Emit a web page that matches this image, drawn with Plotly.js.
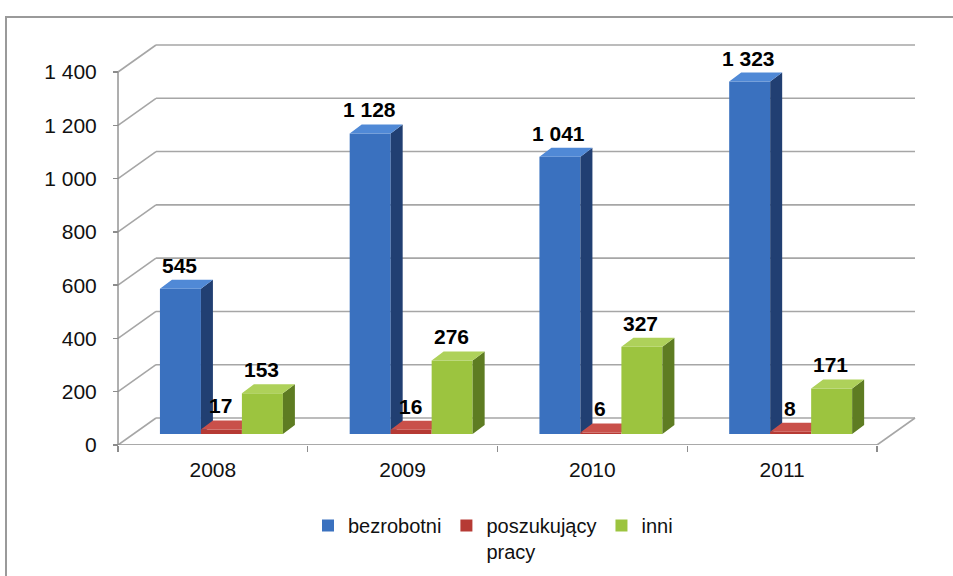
<!DOCTYPE html>
<html>
<head>
<meta charset="utf-8">
<script src="https://cdn.plot.ly/plotly-3.0.1.min.js"></script>
<style>
html,body{margin:0;padding:0;background:#fff;}
#chart{width:953px;height:576px;}
</style>
</head>
<body>
<div id="chart"></div>
<script>
// ---- data ----
const years = ['2008', '2009', '2010', '2011'];
const bezrobotni = [545, 1128, 1041, 1323];
const poszukujacy = [17, 16, 6, 8];
const inni = [153, 276, 327, 171];
const seriesNames = ['bezrobotni', 'poszukujący<br>pracy', 'inni'];
const yTickVals = [0, 200, 400, 600, 800, 1000, 1200, 1400];
const yTickText = ['0', '200', '400', '600', '800', '1 000', '1 200', '1 400'];

// ---- styling / geometry constants ----
const W = 953, H = 576;
const FONT = 'Arial, "Liberation Sans", sans-serif';
const xMin = -0.52, xMax = 3.72, yMax = 1510;
const pxPerX = 189.75;              // px per category
const pxPerY = 373 / 1400;          // px per value unit
const frontLeftPx = 118, floorPx = 445;
const domLeftPx = frontLeftPx + (xMin + 0.5) * pxPerX;
const domRightPx = frontLeftPx + (xMax + 0.5) * pxPerX;
const domTopPx = floorPx - yMax * pxPerY;
const DXF = 38 / pxPerX, DYF = 27 / pxPerY;      // back wall offset
const DXB = 12 / pxPerX, DYB = 9 / pxPerY;       // bar depth offset
const BASE = 11 / pxPerY;                        // bar plane above floor
const barW = 0.216;
const offsets = [-0.279, -0.063, 0.153];
const colors = {
  front: ['#3a71bf', '#b63a34', '#9cc43f'],
  side:  ['#213f72', '#7a2422', '#5e7c22'],
  top:   ['#5089d6', '#c9504a', '#aed15a']
};
const gridColor = '#a6a6a6';

const seriesVals = [bezrobotni, poszukujacy, inni];
const fmt = n => String(n).replace(/\B(?=(\d{3})+(?!\d))/g, ' ');
const xs = years.map((_, i) => i);

const traces = [];
const annotations = [];
seriesVals.forEach((vals, s) => {
  const ax = s === 0 ? 'x' : 'x' + (s + 1);
  const ay = s === 0 ? 'y' : 'y' + (s + 1);
  traces.push({
    type: 'bar', x: xs, y: vals, base: BASE, width: barW, offset: offsets[s],
    name: seriesNames[s], xaxis: ax, yaxis: ay,
    marker: {color: colors.front[s], line: {width: 0}},
    hoverinfo: 'skip'
  });
  const sx = [], sy = [], tx = [], ty = [];
  vals.forEach((v, i) => {
    const xl = i + offsets[s], xr = xl + barW, top = BASE + v;
    if (s !== 1) {
      sx.push(xr, xr + DXB, xr + DXB, xr, xr, null);
      sy.push(BASE, BASE + DYB, top + DYB, top, BASE, null);
    }
    tx.push(xl, xr, xr + DXB, xl + DXB, xl, null);
    ty.push(top, top, top + DYB, top + DYB, top, null);
    annotations.push({
      x: xl + barW / 2, y: top, xref: ax, yref: ay,
      text: '<b>' + fmt(v) + '</b>', showarrow: false,
      yanchor: 'bottom', yshift: 10, xshift: -1,
      font: {family: FONT, size: 21, color: '#000'}
    });
  });
  if (sx.length) traces.push({type: 'scatter', x: sx, y: sy, xaxis: ax, yaxis: ay, mode: 'none',
    fill: 'toself', fillcolor: colors.side[s], showlegend: false, hoverinfo: 'skip'});
  traces.push({type: 'scatter', x: tx, y: ty, xaxis: ax, yaxis: ay, mode: 'none',
    fill: 'toself', fillcolor: colors.top[s], showlegend: false, hoverinfo: 'skip'});
});

// ---- 3D frame shapes (walls, floor, gridlines) ----
const shapes = [];
const ln = (x0, y0, x1, y1, c, w) => ({type: 'line', xref: 'x', yref: 'y', x0, y0, x1, y1,
  layer: 'below', line: {color: c || gridColor, width: w || 1.6}});
yTickVals.forEach(v => {
  shapes.push(ln(-0.5, v, -0.5 + DXF, v + DYF));
  shapes.push(ln(-0.5 + DXF, v + DYF, 3.5 + DXF, v + DYF));
});
shapes.push(ln(3.5, 0, 3.5 + DXF, DYF));
shapes.push(ln(-0.5, 0, -0.5, 1400, '#8c8c8c', 1.4));
shapes.push(ln(-0.5, 0, 3.5, 0, '#8c8c8c', 1.4));
shapes.push({type: 'rect', xref: 'paper', yref: 'paper', x0: 6 / W, x1: 1.02, y0: -0.02, y1: 1 - 17 / H,
  layer: 'below', line: {color: '#9a9a9a', width: 2}, fillcolor: 'rgba(0,0,0,0)'});

const xDom = [domLeftPx / W, domRightPx / W];
const yDom = [1 - floorPx / H, 1 - domTopPx / H];
const hiddenX = {range: [xMin, xMax], domain: xDom, visible: false, overlaying: 'x', fixedrange: true};
const hiddenY = {range: [0, yMax], domain: yDom, visible: false, fixedrange: true};

const layout = {
  width: W, height: H,
  margin: {l: 0, r: 0, t: 0, b: 0},
  paper_bgcolor: '#fff', plot_bgcolor: 'rgba(0,0,0,0)',
  barmode: 'overlay',
  showlegend: true,
  xaxis: {
    range: [xMin, xMax], domain: xDom, showgrid: false, zeroline: false, showline: false,
    tickvals: xs, ticktext: years, ticks: '', ticklabelstandoff: 10,
    tickfont: {family: FONT, size: 21, color: '#111'},
    minor: {tickvals: [-0.5, 0.5, 1.5, 2.5, 3.5], ticks: 'outside', ticklen: 6, tickcolor: '#8c8c8c', tickwidth: 1.4, showgrid: false},
    fixedrange: true
  },
  yaxis: {
    range: [0, yMax], domain: yDom, anchor: 'free', position: frontLeftPx / W,
    showgrid: false, zeroline: false, showline: false,
    tickvals: yTickVals, ticktext: yTickText, ticks: 'outside', ticklen: 5,
    tickcolor: '#8c8c8c', tickwidth: 1.4, ticklabelstandoff: 12,
    tickfont: {family: FONT, size: 21, color: '#111'}, fixedrange: true
  },
  xaxis2: Object.assign({}, hiddenX, {anchor: 'y2'}),
  yaxis2: Object.assign({}, hiddenY, {anchor: 'x2', overlaying: 'y'}),
  xaxis3: Object.assign({}, hiddenX, {anchor: 'y3'}),
  yaxis3: Object.assign({}, hiddenY, {anchor: 'x3', overlaying: 'y'}),
  legend: {
    orientation: 'h', x: 493 / W, xanchor: 'center', y: 1 - 506 / H, yanchor: 'top',
    font: {family: FONT, size: 20, color: '#111'}, itemwidth: 30, traceorder: 'normal',
    valign: 'top', tracegroupgap: 0
  },
  shapes: shapes,
  annotations: annotations
};

Plotly.newPlot('chart', traces, layout, {displayModeBar: false, staticPlot: true});
</script>
</body>
</html>
